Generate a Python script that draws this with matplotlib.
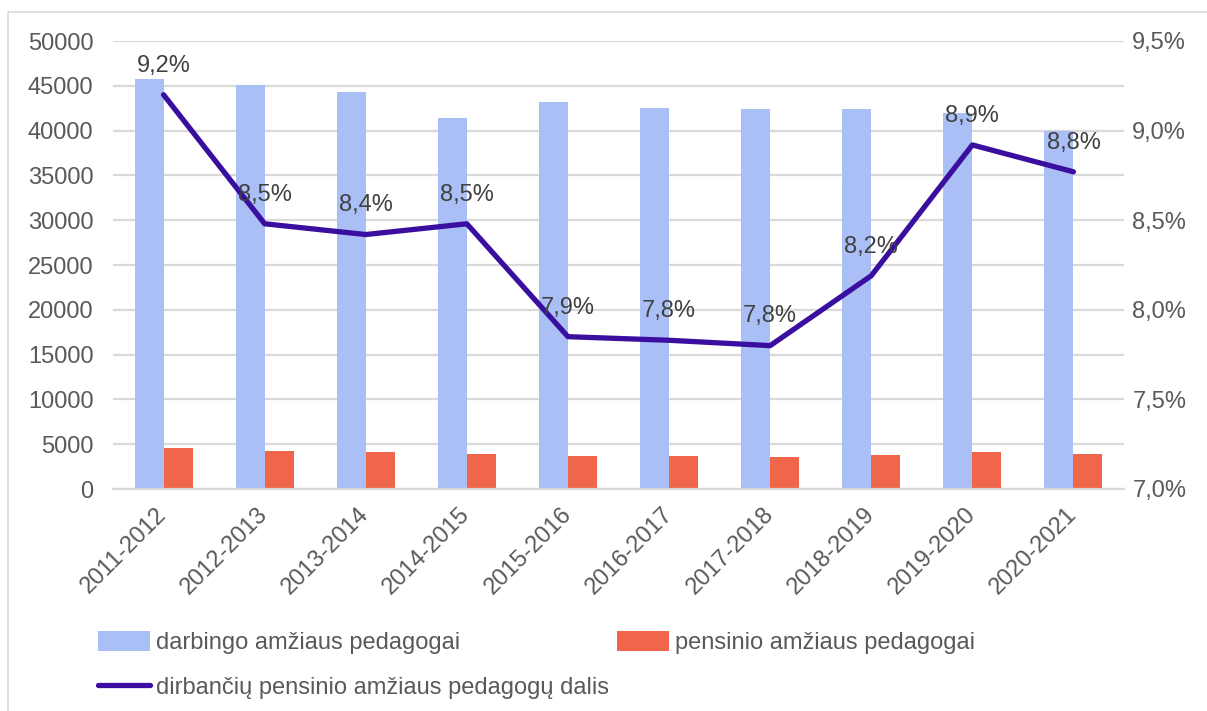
import numpy as np
import matplotlib
matplotlib.use("Agg")
import matplotlib.pyplot as plt
from matplotlib.patches import Rectangle

plt.rcParams['font.family'] = ['Liberation Sans', 'DejaVu Sans']

# data
years = ["2011-2012", "2012-2013", "2013-2014", "2014-2015", "2015-2016",
         "2016-2017", "2017-2018", "2018-2019", "2019-2020", "2020-2021"]
working_age = [45800, 45100, 44300, 41400, 43200, 42500, 42400, 42400, 42000, 40000]
retired_age = [4600, 4200, 4100, 3900, 3700, 3650, 3600, 3800, 4100, 3900]
share_pct = [9.20, 8.48, 8.42, 8.48, 7.85, 7.83, 7.80, 8.19, 8.92, 8.77]
share_labels = ["9,2%", "8,5%", "8,4%", "8,5%", "7,9%", "7,8%", "7,8%", "8,2%", "8,9%", "8,8%"]

blue = "#A9BFF5"
red = "#F0664A"
purple = "#3A0F9F"
txt = "#595959"
grid = "#D9D9D9"

fig = plt.figure(figsize=(12.07, 7.11), dpi=100)
ax = fig.add_axes([113/1207, 1 - 489/711, (1124-113)/1207, (489-41)/711])
ax2 = ax.twinx()

x = np.arange(len(years))
w = 0.287
ax.bar(x - w/2, working_age, w, color=blue, label="darbingo amžiaus pedagogai", zorder=2)
ax.bar(x + w/2, retired_age, w, color=red, label="pensinio amžiaus pedagogai", zorder=2)

ax.set_xlim(-0.5, len(years) - 0.5)
ax.set_ylim(0, 50000)
ax.set_yticks(np.arange(0, 50001, 5000))
ax.yaxis.grid(True, color=grid, lw=1.6, zorder=0)
ax.set_axisbelow(True)
for s in ax.spines.values():
    s.set_visible(False)
for s in ax2.spines.values():
    s.set_visible(False)
ax.spines['bottom'].set_visible(True)
ax.spines['bottom'].set_color(grid)
ax.spines['bottom'].set_linewidth(1.6)

ax.set_xticks(x)
ax.set_xticklabels(years, rotation=45, ha='right', va='center', rotation_mode='anchor')
ax.tick_params(axis='x', length=0, pad=16, labelsize=17, labelcolor=txt)
ax.tick_params(axis='y', length=0, pad=14, labelsize=17, labelcolor=txt)

ln, = ax2.plot(x, share_pct, color=purple, lw=3.8, solid_capstyle='round',
               solid_joinstyle='round', label="dirbančių pensinio amžiaus pedagogų dalis", zorder=3)
ax2.set_ylim(7.0, 9.5)
ax2.set_yticks(np.arange(7.0, 9.51, 0.5))
ax2.set_yticklabels([("%.1f%%" % v).replace(".", ",") for v in np.arange(7.0, 9.51, 0.5)])
ax2.tick_params(axis='y', length=0, pad=6, labelsize=17, labelcolor=txt)

for xi, yi, lab in zip(x, share_pct, share_labels):
    ax2.annotate(lab, (xi, yi), xytext=(0, 21), textcoords='offset points',
                 ha='center', va='center', fontsize=17, color="#404040", zorder=4)

h1, l1 = ax.get_legend_handles_labels()
handles = [h1[0], ln, h1[1]]
labels = [l1[0], ln.get_label(), l1[1]]
fig.legend(handles, labels, ncol=2, loc='upper left', bbox_to_anchor=(77/1207, 1 - 610/711),
           frameon=False, fontsize=17, labelcolor=txt, handlelength=2.2, handleheight=0.9,
           handletextpad=0.25, columnspacing=0.35, labelspacing=0.92)

fig.patches.append(Rectangle((8/1207, -0.1), 1.2, 1 - 12/711 + 0.1, transform=fig.transFigure,
                             fill=False, edgecolor=grid, lw=1.2))

fig.savefig("out.png", dpi=100)
